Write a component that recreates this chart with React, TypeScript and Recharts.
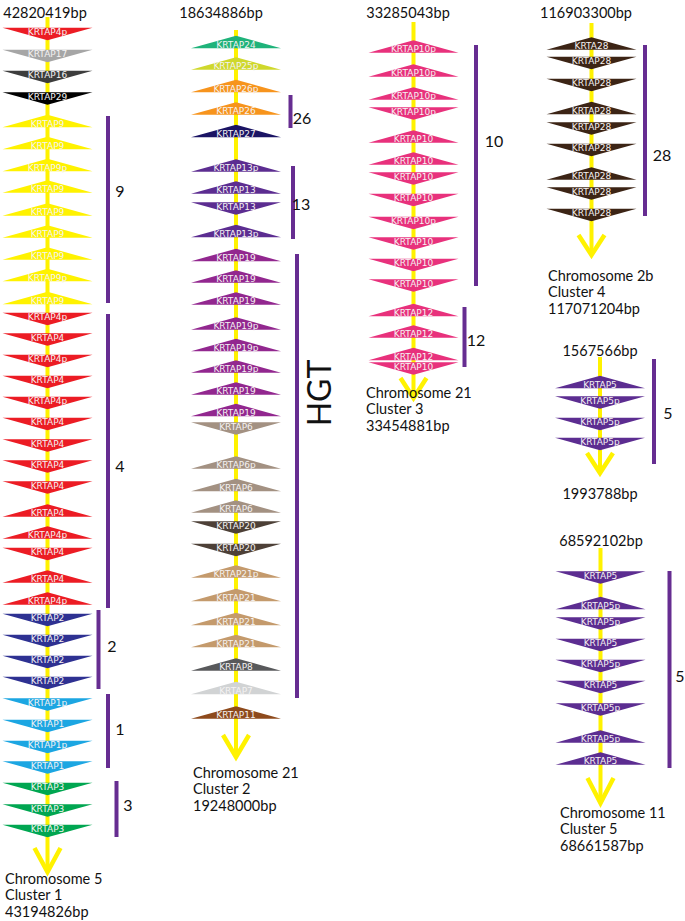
import React from 'react';
import { ScatterChart, Scatter, XAxis, YAxis } from 'recharts';

type Gene = { gene: string; strand: '+' | '-'; pos: number };

// ---------- DATA ----------
const g = (gene: string, strand: '+' | '-', pos: number): Gene => ({ gene, strand, pos });

const cluster1: Gene[] = [
  g('KRTAP4p', '-', 34), g('KRTAP17', '-', 56), g('KRTAP16', '-', 77), g('KRTAP29', '-', 98.5),
  g('KRTAP9', '+', 121), g('KRTAP9', '+', 143), g('KRTAP9p', '+', 165), g('KRTAP9', '+', 186.5),
  g('KRTAP9', '+', 209.5), g('KRTAP9', '+', 231.5), g('KRTAP9', '+', 253.5), g('KRTAP9p', '+', 275),
  g('KRTAP9', '+', 298), g('KRTAP4p', '-', 319), g('KRTAP4', '-', 339.5), g('KRTAP4p', '-', 361),
  g('KRTAP4', '-', 382), g('KRTAP4p', '-', 403), g('KRTAP4', '-', 424), g('KRTAP4', '-', 445.5),
  g('KRTAP4', '-', 466.5), g('KRTAP4', '-', 487.5), g('KRTAP4', '+', 510.5), g('KRTAP4p', '+', 532.5),
  g('KRTAP4', '-', 554), g('KRTAP4', '+', 576.5), g('KRTAP4p', '+', 598.5), g('KRTAP2', '-', 620),
  g('KRTAP2', '-', 641), g('KRTAP2', '-', 662), g('KRTAP2', '-', 683), g('KRTAP1p', '-', 704.5),
  g('KRTAP1', '-', 726), g('KRTAP1p', '-', 747), g('KRTAP1', '-', 767.5), g('KRTAP3', '-', 789),
  g('KRTAP3', '-', 810.5), g('KRTAP3', '-', 831),
];

const cluster2: Gene[] = [
  g('KRTAP24', '+', 42), g('KRTAP25p', '+', 63.5), g('KRTAP26p', '+', 86), g('KRTAP26', '+', 108.5),
  g('KRTAP27', '+', 131), g('KRTAP13p', '+', 165.5), g('KRTAP13', '+', 187.5), g('KRTAP13', '-', 208.5),
  g('KRTAP13p', '+', 231), g('KRTAP19', '+', 255), g('KRTAP19', '+', 276.5), g('KRTAP19', '+', 298.5),
  g('KRTAP19p', '+', 323.5), g('KRTAP19p', '+', 345), g('KRTAP19p', '+', 366.5), g('KRTAP19', '+', 388.5),
  g('KRTAP19', '+', 410), g('KRTAP6', '-', 428.5), g('KRTAP6p', '+', 462.5), g('KRTAP6', '+', 485),
  g('KRTAP6', '+', 506.5), g('KRTAP20', '-', 527.5), g('KRTAP20', '-', 550), g('KRTAP21p', '+', 571.5),
  g('KRTAP21', '+', 595), g('KRTAP21', '+', 619), g('KRTAP21', '+', 641), g('KRTAP8', '+', 664.5),
  g('KRTAP7', '+', 688), g('KRTAP11', '+', 712.5),
];

const cluster3: Gene[] = [
  g('KRTAP10p', '+', 46.5), g('KRTAP10p', '+', 70.5), g('KRTAP10p', '+', 93.5), g('KRTAP10p', '-', 113.5),
  g('KRTAP10', '+', 136.5), g('KRTAP10', '+', 158.5), g('KRTAP10', '-', 178.5), g('KRTAP10', '-', 200),
  g('KRTAP10p', '-', 223), g('KRTAP10', '-', 243.5), g('KRTAP10', '-', 265), g('KRTAP10', '-', 285.5),
  g('KRTAP12', '+', 310), g('KRTAP12', '+', 331.5), g('KRTAP12', '+', 354), g('KRTAP10', '-', 368.5),
];

const cluster4: Gene[] = [
  g('KRTA28', '+', 43.5), g('KRTAP28', '-', 63), g('KRTAP28', '-', 85), g('KRTAP28', '+', 108),
  g('KRTAP28', '-', 128.5), g('KRTAP28', '-', 150), g('KRTAP28', '+', 173.5), g('KRTAP28', '-', 193.5),
  g('KRTAP28', '-', 215),
];

const cluster5a: Gene[] = [
  g('KRTAP5', '+', 382), g('KRTAP5p', '-', 402.5), g('KRTAP5p', '-', 424), g('KRTAP5p', '-', 444),
];

const cluster5b: Gene[] = [
  g('KRTAP5', '-', 577.5), g('KRTAP5p', '+', 603), g('KRTAP5p', '-', 623.5), g('KRTAP5', '-', 645),
  g('KRTAP5p', '-', 666), g('KRTAP5', '-', 687), g('KRTAP5p', '-', 709.5), g('KRTAP5p', '+', 736.5),
  g('KRTAP5', '+', 758.5),
];

const startLabels = ['42820419bp', '18634886bp', '33285043bp', '116903300bp', '1567566bp', '68592102bp'];
const footerLabels: string[][] = [
  ['Chromosome 5', 'Cluster 1', '43194826bp'],
  ['Chromosome 21', 'Cluster 2', '19248000bp'],
  ['Chromosome 21', 'Cluster 3', '33454881bp'],
  ['Chromosome 2b', 'Cluster 4', '117071204bp'],
  ['1993788bp'],
  ['Chromosome 11', 'Cluster 5', '68661587bp'],
];

type Span = { label: string; from: number; to: number };
const subfamilies1: Span[] = [
  { label: '9', from: 116, to: 303 }, { label: '4', from: 314, to: 608 },
  { label: '2', from: 610, to: 689 }, { label: '1', from: 694, to: 768 },
  { label: '3', from: 781, to: 837 },
];
const subfamilies2: Span[] = [
  { label: '26', from: 95, to: 128 }, { label: '13', from: 166, to: 239 }, { label: 'HGT', from: 254, to: 698 },
];
const subfamilies3: Span[] = [{ label: '10', from: 45, to: 286 }, { label: '12', from: 307, to: 367 }];
const subfamilies4: Span[] = [{ label: '28', from: 45, to: 216 }];
const subfamilies5a: Span[] = [{ label: '5', from: 359, to: 464 }];
const subfamilies5b: Span[] = [{ label: '5', from: 571, to: 768 }];

// ---------- STYLE / LAYOUT ----------
const familyColors: Record<string, string> = {
  KRTAP4: '#ec1c24', KRTAP17: '#a6a6a6', KRTAP16: '#3d3d3d', KRTAP29: '#000000', KRTAP9: '#fff200',
  KRTAP2: '#2e3192', KRTAP1: '#1ca6e2', KRTAP3: '#00a651', KRTAP24: '#1fb37a', KRTAP25: '#cfd82c',
  KRTAP26: '#f7941d', KRTAP27: '#1b1464', KRTAP13: '#5c2d91', KRTAP19: '#92278f', KRTAP6: '#a39182',
  KRTAP20: '#4d4037', KRTAP21: '#c49a6c', KRTAP8: '#58595b', KRTAP7: '#d1d3d4', KRTAP11: '#8e4a1c',
  KRTAP10: '#e8317c', KRTAP12: '#e8317c', KRTAP28: '#3c2415', KRTA28: '#3c2415', KRTAP5: '#5c2d91',
};
const colorOf = (gene: string) => familyColors[gene.replace(/p$/, '')] || '#888';

const YELLOW = '#fff200';
const PURPLE = '#662d91';
const FONT = 'Lato, "Open Sans", sans-serif';

type Track = {
  genes: Gene[]; spans: Span[]; x: number; top: number; tip: number; arrowH: number;
  titleX: number; titleY: number; footX: number; footY: number; footAnchor: 'start' | 'middle';
  brackets: { x: number; labelX: number; labelY: number }[];
};

const tracks: Track[] = [
  { genes: cluster1, spans: subfamilies1, x: 47.5, top: 17, tip: 872, arrowH: 24, titleX: 45, titleY: 12,
    footX: 5, footY: 878, footAnchor: 'start',
    brackets: [{ x: 108, labelX: 120, labelY: 190 }, { x: 108, labelX: 120, labelY: 465 },
      { x: 98.5, labelX: 112, labelY: 645 }, { x: 108, labelX: 120, labelY: 728 }, { x: 116.5, labelX: 128, labelY: 804 }] },
  { genes: cluster2, spans: subfamilies2, x: 236, top: 30, tip: 757, arrowH: 22, titleX: 221, titleY: 12,
    footX: 193, footY: 772, footAnchor: 'start',
    brackets: [{ x: 290.5, labelX: 302, labelY: 117 }, { x: 293, labelX: 301, labelY: 203 }, { x: 297, labelX: 318, labelY: 393 }] },
  { genes: cluster3, spans: subfamilies3, x: 413.5, top: 22, tip: 398, arrowH: 20, titleX: 408, titleY: 12,
    footX: 366, footY: 392, footAnchor: 'start',
    brackets: [{ x: 476, labelX: 494, labelY: 140 }, { x: 464.5, labelX: 476, labelY: 339 }] },
  { genes: cluster4, spans: subfamilies4, x: 591.5, top: 23, tip: 255, arrowH: 20, titleX: 586, titleY: 12,
    footX: 548, footY: 275, footAnchor: 'start',
    brackets: [{ x: 645, labelX: 662, labelY: 154 }] },
  { genes: cluster5a, spans: subfamilies5a, x: 600, top: 357, tip: 473, arrowH: 20, titleX: 600, titleY: 350,
    footX: 600, footY: 493, footAnchor: 'middle',
    brackets: [{ x: 654, labelX: 668, labelY: 412 }] },
  { genes: cluster5b, spans: subfamilies5b, x: 600.5, top: 548, tip: 803, arrowH: 25, titleX: 601, titleY: 540,
    footX: 560, footY: 812, footAnchor: 'start',
    brackets: [{ x: 669.5, labelX: 680, labelY: 675 }] },
];

const HALF_W = 45;
const HALF_H = 6.3;
const ARROW_W = 13;

const Triangle = (props: any) => {
  const { cx, cy, payload } = props;
  const down = payload.strand === '-';
  const color = colorOf(payload.gene);
  const pts = down
    ? `${cx - HALF_W},${cy - HALF_H} ${cx + HALF_W},${cy - HALF_H} ${cx},${cy + HALF_H}`
    : `${cx - HALF_W},${cy + HALF_H} ${cx + HALF_W},${cy + HALF_H} ${cx},${cy - HALF_H}`;
  return (
    <g>
      <polygon points={pts} fill={color} />
      <text x={cx} y={down ? cy + 1.3 : cy + 5.8} textAnchor="middle" fontSize={9}
        fontFamily='"DejaVu Sans", Verdana, sans-serif' fill="#f4f2f2">{payload.gene}</text>
    </g>
  );
};

const TextMark = (props: any) => {
  const { cx, cy, payload } = props;
  const rot = payload.rotate ? `rotate(${payload.rotate} ${cx} ${cy})` : undefined;
  return (
    <text x={cx} y={cy} textAnchor={payload.anchor} dominantBaseline="central" fontSize={payload.size}
      fontFamily={FONT} fill="#111" transform={rot}>{payload.text}</text>
  );
};

const Nothing = () => <g />;

export default function App() {
  const texts: any[] = [];
  tracks.forEach((t, i) => {
    texts.push({ x: t.titleX, y: t.titleY, text: startLabels[i], anchor: 'middle', size: 14.5 });
    footerLabels[i].forEach((s, j) => {
      texts.push({ x: t.footX, y: t.footY + j * 16.5, text: s, anchor: t.footAnchor, size: 14.5 });
    });
    t.spans.forEach((sp, j) => {
      const b = t.brackets[j];
      const isHGT = sp.label === 'HGT';
      texts.push({ x: b.labelX, y: b.labelY, text: sp.label, anchor: 'middle', size: isHGT ? 32 : 16, rotate: isHGT ? -90 : 0 });
    });
  });

  return (
    <div style={{ position: 'absolute', left: 0, top: 0, background: '#fff' }}>
      <ScatterChart width={685} height={921} margin={{ top: 0, right: 0, bottom: 0, left: 0 }}>
        <XAxis type="number" dataKey="x" domain={[0, 685]} allowDataOverflow hide />
        <YAxis type="number" dataKey="y" domain={[0, 921]} allowDataOverflow reversed hide />
        {tracks.map((t, i) => (
          <Scatter key={`line${i}`} data={[{ x: t.x, y: t.top }, { x: t.x, y: t.tip - 2 }]}
            line={{ stroke: YELLOW, strokeWidth: 4 }} shape={Nothing} isAnimationActive={false} />
        ))}
        {tracks.map((t, i) => (
          <Scatter key={`arrow${i}`}
            data={[{ x: t.x - ARROW_W, y: t.tip - t.arrowH }, { x: t.x, y: t.tip }, { x: t.x + ARROW_W, y: t.tip - t.arrowH }]}
            line={{ stroke: YELLOW, strokeWidth: 4.5, strokeLinejoin: 'miter' }} shape={Nothing} isAnimationActive={false} />
        ))}
        {tracks.map((t, i) => (
          <Scatter key={`genes${i}`} data={t.genes.map((gn) => ({ ...gn, x: t.x, y: gn.pos }))}
            shape={Triangle} isAnimationActive={false} />
        ))}
        {tracks.flatMap((t, i) => t.spans.map((sp, j) => (
          <Scatter key={`br${i}-${j}`} data={[{ x: t.brackets[j].x, y: sp.from }, { x: t.brackets[j].x, y: sp.to }]}
            line={{ stroke: PURPLE, strokeWidth: 4 }} shape={Nothing} isAnimationActive={false} />
        )))}
        <Scatter data={texts} shape={TextMark} isAnimationActive={false} />
      </ScatterChart>
    </div>
  );
}
